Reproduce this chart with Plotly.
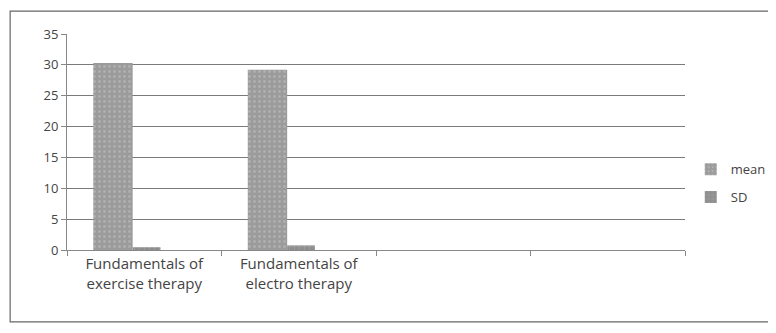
import plotly.graph_objects as go

# data
categories = ["Fundamentals of<br>exercise therapy", "Fundamentals of<br>electro therapy"]
mean_vals = [30.3, 29.2]
sd_vals = [0.45, 0.75]
y_ticks = [0, 5, 10, 15, 20, 25, 30, 35]

x_pos = [0, 1]

fig = go.Figure()
fig.add_trace(go.Bar(
    x=x_pos, y=mean_vals, name="mean", legendgroup="a",
    offset=-0.33, width=0.255,
    marker=dict(color="#9b9b9b", line=dict(width=0),
                pattern=dict(shape=".", fgcolor="#c4c4c4", size=5, solidity=0.25)),
))
fig.add_trace(go.Bar(
    x=x_pos, y=sd_vals, name="SD", legendgroup="b",
    offset=-0.075, width=0.18,
    marker=dict(color="#8e8e8e", line=dict(width=0),
                pattern=dict(shape="+", fgcolor="#bdbdbd", size=5, solidity=0.2)),
))

# page body has an 8px margin, so the figure is sized to fit the window
fig.update_layout(
    width=768, height=325,
    margin=dict(l=59, r=91, t=26, b=83, autoexpand=False),
    paper_bgcolor="white", plot_bgcolor="white",
    barmode="overlay",
    font=dict(family="Open Sans, Liberation Sans, sans-serif", size=13, color="#444"),
    showlegend=True,
    legend=dict(xref="container", yref="container", x=0.889, y=0.55,
                xanchor="left", yanchor="top",
                traceorder="grouped", tracegroupgap=8,
                font=dict(size=13, color="#444"), itemwidth=30),
    shapes=[dict(type="rect", xref="paper", yref="paper",
                 x0=-0.092, x1=1.141, y0=-0.333, y1=1.106,
                 line=dict(color="#666", width=1.2))],
)

fig.update_xaxes(
    range=[-0.5, 3.5], tickvals=x_pos, ticktext=categories,
    ticks="", showline=True, linecolor="#888", linewidth=1,
    tickfont=dict(size=15, color="#444"), automargin=False,
    minor=dict(tickvals=[-0.5, 0.5, 1.5, 2.5, 3.5], ticks="outside",
               ticklen=5, tickcolor="#888", showgrid=False),
    showgrid=False, fixedrange=True,
)
fig.update_yaxes(
    range=[0, 35], tickvals=y_ticks, ticks="outside", ticklen=5, tickcolor="#888",
    showline=True, linecolor="#888", linewidth=1,
    showgrid=True, gridcolor="#7a7a7a", gridwidth=1, automargin=False,
    tickfont=dict(size=13, color="#444"), fixedrange=True,
)

fig.write_html("out.html")
